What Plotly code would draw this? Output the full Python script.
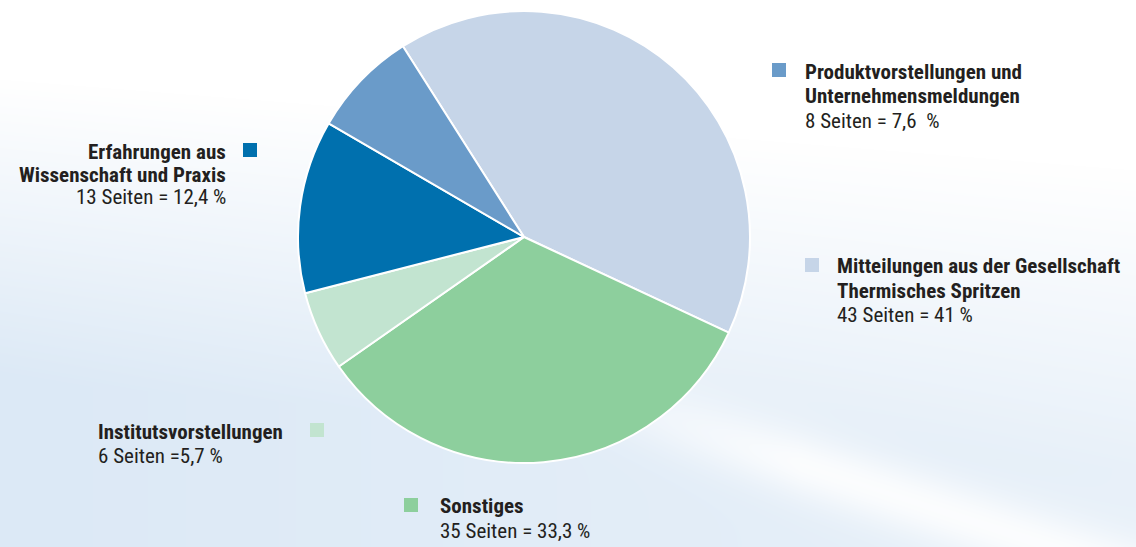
import base64, struct, zlib
import numpy as np
import plotly.graph_objects as go

W, H = 1136, 547

# ---------------- data ----------------
labels = ["Mitteilungen aus der Gesellschaft Thermisches Spritzen", "Sonstiges",
          "Institutsvorstellungen", "Erfahrungen aus Wissenschaft und Praxis",
          "Produktvorstellungen und Unternehmensmeldungen"]
pages = [43, 35, 6, 13, 8]
colors = ["#c6d5e8", "#8dcf9d", "#c2e4d0", "#0070ae", "#6a9bc9"]
title_lines = [["Mitteilungen aus der Gesellschaft", "Thermisches Spritzen"],
               ["Sonstiges"],
               ["Institutsvorstellungen"],
               ["Erfahrungen aus", "Wissenschaft und Praxis"],
               ["Produktvorstellungen und", "Unternehmensmeldungen"]]
value_texts = ["43 Seiten = 41 %", "35 Seiten = 33,3 %", "6 Seiten =5,7 %",
               "13 Seiten = 12,4 %", "8 Seiten = 7,6  %"]

# ---------------- background image (decoration) ----------------
yy, xx = np.mgrid[0:H, 0:W].astype(float)
t = np.clip((yy - 170 + 0.08 * (W - xx)) / 300.0, 0, 1) * (1.0 - 0.35 * xx / W)
d = (yy - (200 + 0.33 * xx)) / 35.0
band = np.exp(-d ** 2) * np.clip((xx - 500) / 300, 0, 1) * 0.85
t = np.clip(t * (1 - band), 0, 1)
base = np.array([255, 255, 255], float)
blue = np.array([220, 233, 246], float)
img = (base[None, None, :] * (1 - t[..., None]) + blue[None, None, :] * t[..., None]).astype(np.uint8)
raw = b"".join(b"\x00" + img[r].tobytes() for r in range(H))


def chunk(tag, data):
    c = struct.pack(">I", len(data)) + tag + data
    return c + struct.pack(">I", zlib.crc32(tag + data) & 0xffffffff)


png = b"\x89PNG\r\n\x1a\n" + chunk(b"IHDR", struct.pack(">IIBBBBB", W, H, 8, 2, 0, 0, 0)) \
    + chunk(b"IDAT", zlib.compress(raw, 9)) + chunk(b"IEND", b"")
bg_uri = "data:image/png;base64," + base64.b64encode(png).decode()

# ---------------- figure ----------------
cx, cy, r = 524, 237, 226


def px(x):
    return x / W


def py(y):
    return 1 - y / H


fig = go.Figure(go.Pie(
    labels=labels, values=pages, sort=False, direction="clockwise", rotation=-32.4,
    marker=dict(colors=colors, line=dict(color="white", width=2)),
    textinfo="none", hoverinfo="label+value+percent",
    domain=dict(x=[px(cx - r), px(cx + r)], y=[py(cy + r), py(cy - r)]),
))

FONT = "Liberation Sans Narrow, Arial Narrow, Roboto Condensed, Liberation Sans, sans-serif"
TXT = "#231f20"

# legend block layout: (square x, square y, text x, first-line y, line step, anchor)
blocks = [
    (805, 258, 835, 266, 24.5, "left"),
    (404, 498, 438, 506, 25, "left"),
    (310, 423, 96, 432, 24, "left"),
    (243, 143, 228, 152, 22.5, "right"),
    (772, 63, 803, 72, 24.5, "left"),
]
annotations = []
shapes = []
for i, (sx, sy, tx, ty, step, anc) in enumerate(blocks):
    shapes.append(dict(type="rect", xref="paper", yref="paper",
                       x0=px(sx), x1=px(sx + 14), y0=py(sy + 14), y1=py(sy),
                       fillcolor=colors[i], line=dict(width=0), layer="above"))
    lines = [("<b>%s</b>" % s) for s in title_lines[i]] + [value_texts[i]]
    for k, s in enumerate(lines):
        annotations.append(dict(x=px(tx), y=py(ty + k * step), xref="paper", yref="paper",
                                text=s, showarrow=False, xanchor=anc, yanchor="middle",
                                font=dict(family=FONT, size=21, color=TXT)))

fig.update_layout(
    width=W, height=H, margin=dict(l=0, r=0, t=0, b=0),
    paper_bgcolor="white", plot_bgcolor="white", showlegend=False,
    annotations=annotations, shapes=shapes,
    images=[dict(source=bg_uri, xref="paper", yref="paper", x=0, y=1, sizex=1, sizey=1,
                 sizing="stretch", layer="below", xanchor="left", yanchor="top")],
)
fig.write_html("out.html")
